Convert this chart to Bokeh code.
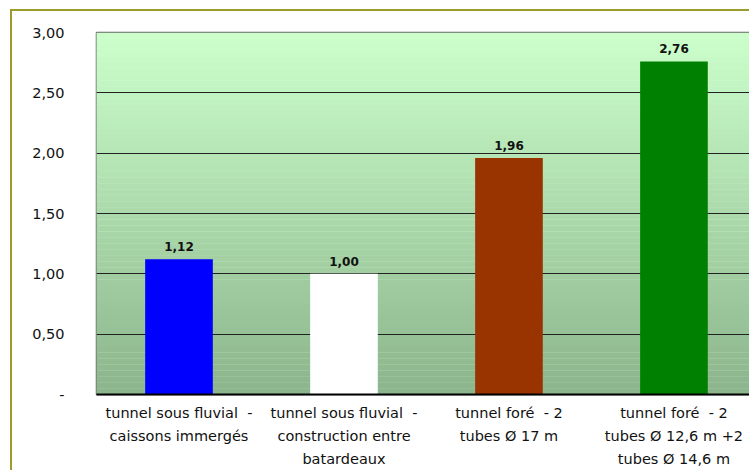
import numpy as np
from bokeh.plotting import figure
from bokeh.models import ColumnDataSource, FixedTicker, Range1d
from bokeh.core.properties import value
from bokeh.embed import file_html
from bokeh.resources import INLINE

categories = [
    "tunnel sous fluvial \u00a0-\ncaissons immergés",
    "tunnel sous fluvial \u00a0-\nconstruction entre\nbatardeaux",
    "tunnel foré \u00a0- 2\ntubes Ø 17 m",
    "tunnel foré \u00a0- 2\ntubes Ø 12,6 m +2\ntubes Ø 14,6 m",
]
values = [1.12, 1.00, 1.96, 2.76]
value_labels = ["1,12", "1,00", "1,96", "2,76"]
bar_colors = ["#0000FF", "#FFFFFF", "#993300", "#008000"]
y_ticks = [0, 0.5, 1.0, 1.5, 2.0, 2.5, 3.0]
y_tick_labels = ["-", "0,50", "1,00", "1,50", "2,00", "2,50", "3,00"]

FONT = "DejaVu Sans"

p = figure(width=739, height=461, output_backend="svg", toolbar_location=None,
           x_range=Range1d(-0.5, 3.47), y_range=Range1d(0, 3),
           min_border_left=84, min_border_right=0, min_border_top=21, min_border_bottom=78)
p.margin = (9, 0, 0, 10)
p.styles = {"border-top": "2px solid #9C9C2A", "border-left": "2px solid #9C9C2A"}
p.border_fill_color = "#FFFFFF"
p.background_fill_color = "#CCFFCC"
p.outline_line_color = "#666666"
p.outline_line_width = 1.5

# background gradient (decoration)
n = 60
edges = np.linspace(0, 3, n + 1)
top_c = np.array([204, 255, 204])
bot_c = np.array([140, 180, 140])
cols = []
for i in range(n):
    t = (edges[i] + edges[i + 1]) / 2 / 3
    c = bot_c + (top_c - bot_c) * t
    cols.append("#%02x%02x%02x" % tuple(int(round(v)) for v in c))
grad = ColumnDataSource(dict(bottom=edges[:-1], top=edges[1:] + 0.001, color=cols))
p.quad(left=-1, right=5, bottom="bottom", top="top", fill_color="color", line_color=None,
       source=grad, level="image")

xs = list(range(len(categories)))
src = ColumnDataSource(dict(x=xs, top=values, color=bar_colors, label=value_labels))
p.vbar(x="x", top="top", width=0.41, fill_color="color", line_color=None, source=src)
p.text(x="x", y="top", text="label", source=src, text_align="center", text_baseline="bottom",
       y_offset=-8, text_font=value(FONT), text_font_style="bold", text_font_size="12px",
       text_color="#111111")

p.xgrid.visible = False
p.ygrid.ticker = FixedTicker(ticks=y_ticks)
p.ygrid.grid_line_color = "#222222"
p.ygrid.grid_line_width = 1

p.yaxis.ticker = FixedTicker(ticks=y_ticks)
p.yaxis.major_label_overrides = {t: l for t, l in zip(y_ticks, y_tick_labels)}
p.yaxis.axis_line_color = None
p.yaxis.major_tick_line_color = None
p.yaxis.minor_tick_line_color = None
p.yaxis.major_tick_out = 0
p.yaxis.major_tick_in = 0
p.yaxis.major_label_standoff = 32
p.yaxis.major_label_text_font = FONT
p.yaxis.major_label_text_font_size = "14.5px"
p.yaxis.major_label_text_color = "#111111"

p.xaxis.ticker = FixedTicker(ticks=xs)
p.xaxis.major_label_overrides = {x: c for x, c in zip(xs, categories)}
p.xaxis.axis_line_color = "#000000"
p.xaxis.axis_line_width = 2
p.xaxis.major_tick_line_color = None
p.xaxis.minor_tick_line_color = None
p.xaxis.major_tick_out = 0
p.xaxis.major_tick_in = 0
p.xaxis.major_label_standoff = 10
p.xaxis.major_label_text_font = FONT
p.xaxis.major_label_text_font_size = "14.5px"
p.xaxis.major_label_text_line_height = 1.45
p.xaxis.major_label_text_color = "#111111"

open("out.html", "w").write(file_html(p, INLINE))
